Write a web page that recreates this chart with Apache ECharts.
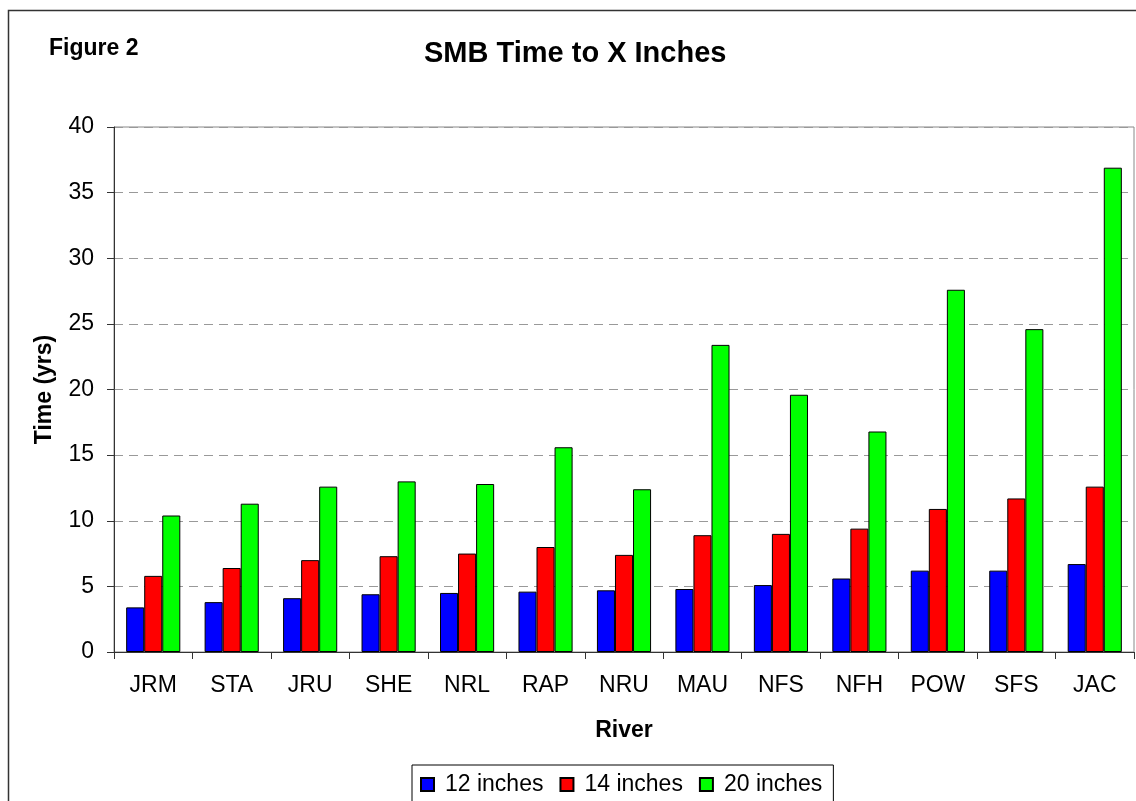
<!DOCTYPE html>
<html>
<head>
<meta charset="utf-8">
<script src="https://cdn.jsdelivr.net/npm/echarts@6/dist/echarts.min.js"></script>
<style>
html,body{margin:0;padding:0;background:#fff;}
#chart{width:1136px;height:801px;}
</style>
</head>
<body>
<div id="chart"></div>
<script>
var categories = ['JRM','STA','JRU','SHE','NRL','RAP','NRU','MAU','NFS','NFH','POW','SFS','JAC'];
var inches12 = [3.4, 3.8, 4.1, 4.4, 4.5, 4.6, 4.7, 4.8, 5.1, 5.6, 6.2, 6.2, 6.7];
var inches14 = [5.8, 6.4, 7.0, 7.3, 7.5, 8.0, 7.4, 8.9, 9.0, 9.4, 10.9, 11.7, 12.6];
var inches20 = [10.4, 11.3, 12.6, 13.0, 12.8, 15.6, 12.4, 23.4, 19.6, 16.8, 27.6, 24.6, 36.9];
var seriesNames = ['12 inches', '14 inches', '20 inches'];
var yTicks = {min: 0, max: 40, interval: 5};

var FONT = "'Liberation Sans', Arial, sans-serif";
var chart = echarts.init(document.getElementById('chart'), null, {renderer: 'canvas'});

function barSeries(name, data, color) {
  return {
    name: name,
    type: 'bar',
    data: data,
    barGap: '0%',
    barCategoryGap: '31%',
    itemStyle: {color: color, borderColor: '#000', borderWidth: 1},
    emphasis: {disabled: true}
  };
}

chart.setOption({
  backgroundColor: '#fff',
  animation: false,
  title: [
    {text: 'SMB Time to X Inches', left: 424, top: 39, padding: 0,
     textStyle: {fontFamily: FONT, fontSize: 29, fontWeight: 'bold', color: '#000'}},
    {text: 'Figure 2', left: 49, top: 37, padding: 0,
     textStyle: {fontFamily: FONT, fontSize: 23, fontWeight: 'bold', color: '#000'}}
  ],
  graphic: [
    {type: 'rect', silent: true, z: -1,
     shape: {x: 8.5, y: 10.5, width: 1300, height: 1000},
     style: {fill: null, stroke: '#333', lineWidth: 1.5}}
  ],
  grid: {left: 114, right: 2, top: 127, bottom: 149, show: true, borderColor: '#888', borderWidth: 1},
  legend: {
    data: seriesNames,
    left: 412, top: 765,
    orient: 'horizontal',
    itemWidth: 13, itemHeight: 13, itemGap: 16,
    padding: [8, 11, 12, 8],
    borderColor: '#000', borderWidth: 1,
    icon: 'rect',
    textStyle: {fontFamily: FONT, fontSize: 23, color: '#000', padding: [0, 0, 0, 6]}
  },
  xAxis: {
    type: 'category',
    data: categories,
    name: 'River',
    nameLocation: 'middle',
    nameGap: 67,
    nameTextStyle: {fontFamily: FONT, fontSize: 23, fontWeight: 'bold', color: '#000'},
    axisLine: {lineStyle: {color: '#333', width: 1}},
    axisTick: {show: true, length: 7, lineStyle: {color: '#333'}},
    axisLabel: {fontFamily: FONT, fontSize: 23, color: '#000', margin: 22},
    splitLine: {show: false}
  },
  yAxis: {
    type: 'value',
    min: yTicks.min, max: yTicks.max, interval: yTicks.interval,
    name: 'Time (yrs)',
    nameLocation: 'middle',
    nameGap: 58,
    nameTextStyle: {fontFamily: FONT, fontSize: 23, fontWeight: 'bold', color: '#000'},
    axisLine: {show: true, lineStyle: {color: '#333', width: 1}},
    axisTick: {show: true, length: 7, lineStyle: {color: '#333'}},
    axisLabel: {fontFamily: FONT, fontSize: 23, color: '#000', margin: 20},
    splitLine: {show: true, lineStyle: {color: '#999', type: [9, 6], width: 1}}
  },
  series: [
    barSeries(seriesNames[0], inches12, '#0000FF'),
    barSeries(seriesNames[1], inches14, '#FF0000'),
    barSeries(seriesNames[2], inches20, '#00FF00')
  ]
});
</script>
</body>
</html>
